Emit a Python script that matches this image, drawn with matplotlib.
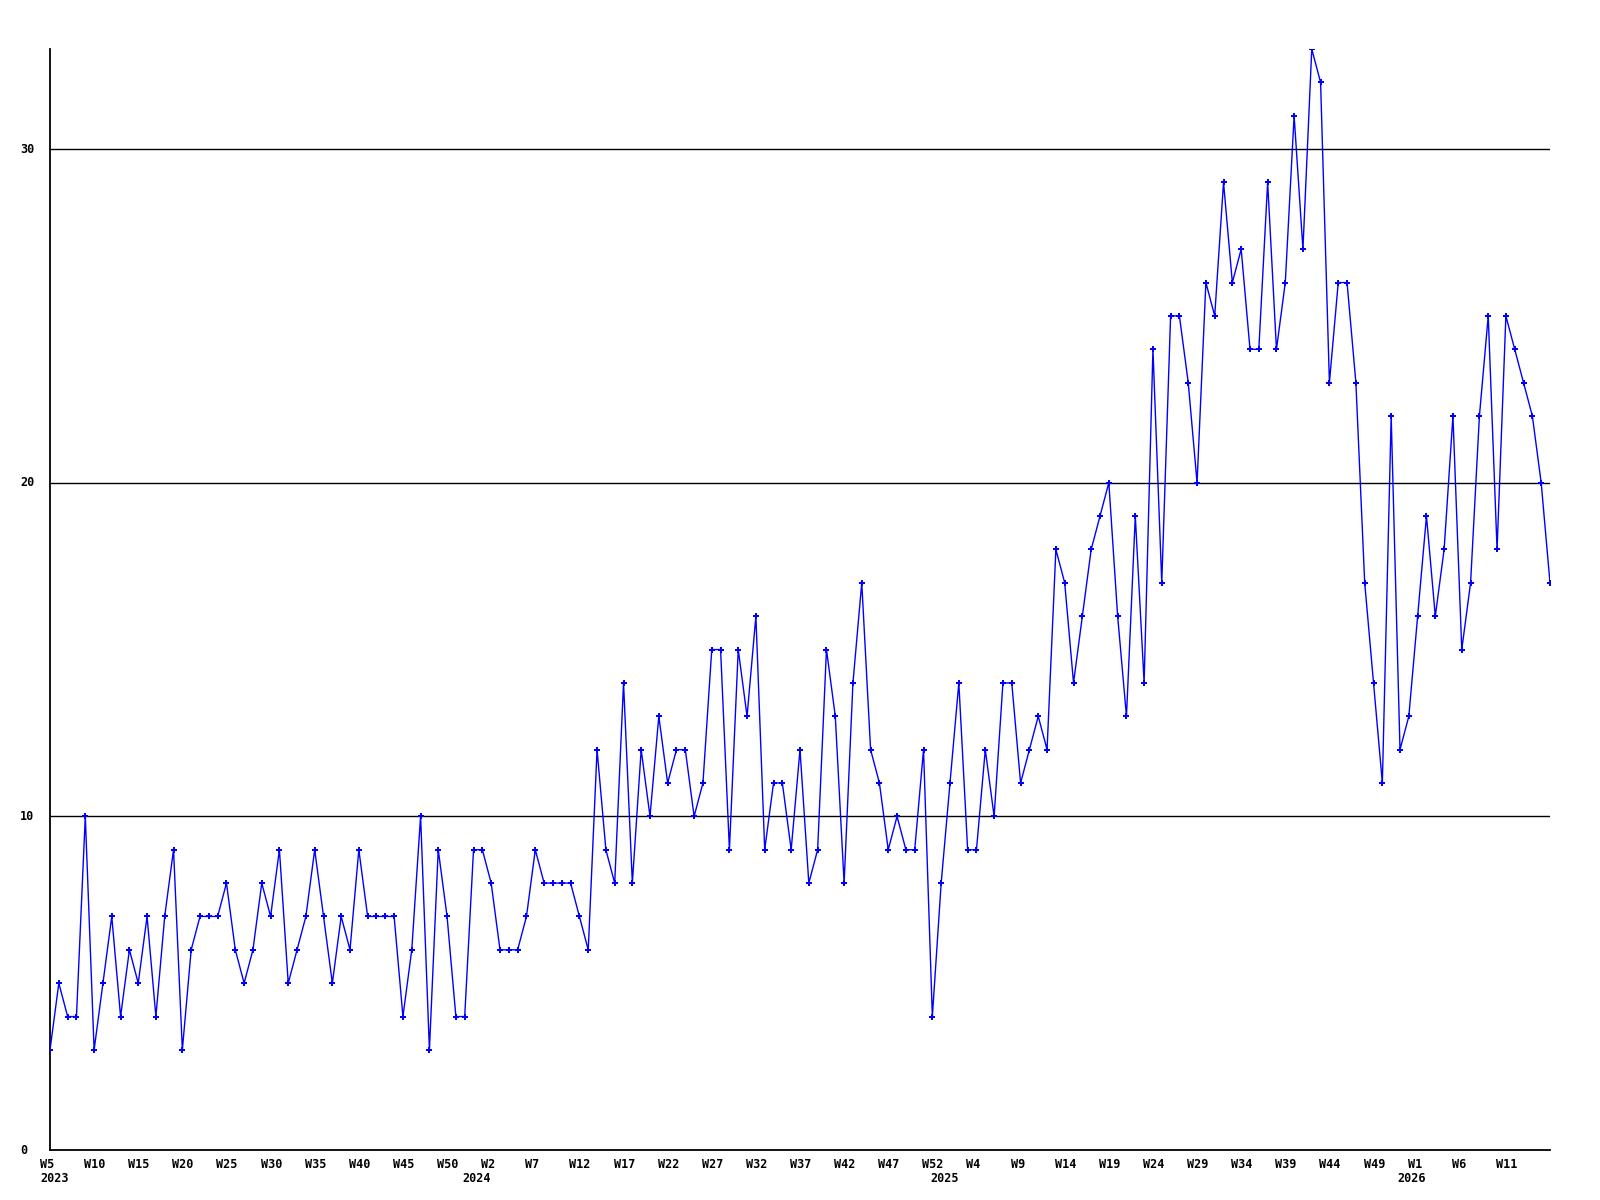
import matplotlib
matplotlib.use("Agg")
import matplotlib.pyplot as plt
from matplotlib.transforms import ScaledTranslation, blended_transform_factory

values = [3, 5, 4, 4, 10, 3, 5, 7, 4, 6,
          5, 7, 4, 7, 9, 3, 6, 7, 7, 7,
          8, 6, 5, 6, 8, 7, 9, 5, 6, 7,
          9, 7, 5, 7, 6, 9, 7, 7, 7, 7,
          4, 6, 10, 3, 9, 7, 4, 4, 9, 9,
          8, 6, 6, 6, 7, 9, 8, 8, 8, 8,
          7, 6, 12, 9, 8, 14, 8, 12, 10, 13,
          11, 12, 12, 10, 11, 15, 15, 9, 15, 13,
          16, 9, 11, 11, 9, 12, 8, 9, 15, 13,
          8, 14, 17, 12, 11, 9, 10, 9, 9, 12,
          4, 8, 11, 14, 9, 9, 12, 10, 14, 14,
          11, 12, 13, 12, 18, 17, 14, 16, 18, 19,
          20, 16, 13, 19, 14, 24, 17, 25, 25, 23,
          20, 26, 25, 29, 26, 27, 24, 24, 29, 24,
          26, 31, 27, 33, 32, 23, 26, 26, 23, 17,
          14, 11, 22, 12, 13, 16, 19, 16, 18, 22,
          15, 17, 22, 25, 18, 25, 24, 23, 22, 20,
          17]

week_labels = ["W5", "W10", "W15", "W20", "W25", "W30", "W35", "W40", "W45", "W50",
               "W2", "W7", "W12", "W17", "W22", "W27", "W32", "W37", "W42", "W47", "W52",
               "W4", "W9", "W14", "W19", "W24", "W29", "W34", "W39", "W44", "W49",
               "W1", "W6", "W11"]
years = ["2023", "2024", "2025", "2026"]
year_start_index = [0, 49, 102, 155]
y_ticks = [0, 10, 20, 30]

x = list(range(len(values)))

fig = plt.figure(figsize=(16, 12), dpi=100)
ax = fig.add_axes([50 / 1600, 1 - 1150 / 1200, 1500 / 1600, (1150 - 49) / 1200])

for yv in y_ticks[1:]:
    ax.axhline(yv, color="black", lw=1.0, zorder=1)

ax.plot(x, values, color="#0000ff", lw=1.0, marker="P", ms=3.8, mew=0,
        zorder=3)

ax.set_xlim(0, len(values) - 1)
ax.set_ylim(0, 33)
ax.set_xticks([])
ax.set_yticks([])

font = dict(fontfamily="DejaVu Sans Mono", fontweight="bold", fontsize=8.5)
px = 1 / 100.0
xt = blended_transform_factory(ax.transData, ax.transAxes)

for i, w in enumerate(week_labels):
    ax.text(5 * i, 0, w, ha="left", va="top",
            transform=xt + ScaledTranslation(-10 * px, -8 * px, fig.dpi_scale_trans),
            clip_on=False, **font)

for yr, idx in zip(years, year_start_index):
    dx = -10 if idx == 0 else -20
    ax.text(idx, 0, yr, ha="left", va="top",
            transform=xt + ScaledTranslation(dx * px, -22 * px, fig.dpi_scale_trans),
            clip_on=False, **font)

yt = blended_transform_factory(fig.transFigure, ax.transData)
for v in y_ticks:
    ax.text(20 / 1600, v, str(v), ha="left", va="center", transform=yt,
            clip_on=False, **font)

for s in ["top", "right"]:
    ax.spines[s].set_visible(False)
for s in ["left", "bottom"]:
    ax.spines[s].set_color("black")
    ax.spines[s].set_linewidth(1.3)

fig.savefig("out.png", dpi=100, facecolor="white")
